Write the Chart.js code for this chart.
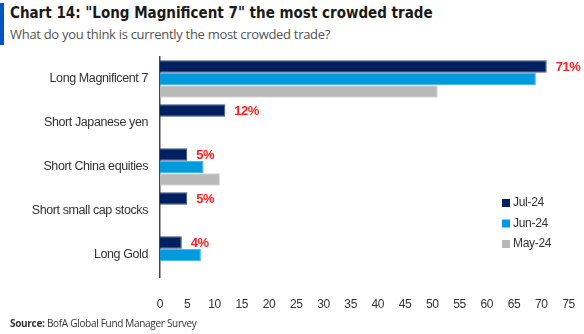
<!DOCTYPE html>
<html>
<head>
<meta charset="utf-8">
<script src="https://cdn.jsdelivr.net/npm/chart.js@4/dist/chart.umd.min.js"></script>
<style>
  html, body { margin: 0; padding: 0; background: #fff; }
  #wrap { position: relative; width: 584px; height: 334px; overflow: hidden; }
  #bar { position: absolute; left: 0; top: 3px; width: 4px; height: 42px; background: #0055c4; }
  #title { position: absolute; left: 10px; top: 4px; font: bold 15px "Liberation Sans Narrow", "DejaVu Sans Condensed", sans-serif; color: #1a1a1a; white-space: nowrap; }
  #sub { position: absolute; left: 10px; top: 25px; font: 13px "Open Sans", "Liberation Sans", sans-serif; color: #555; white-space: nowrap; letter-spacing: -0.3px; }
  #src { position: absolute; left: 10px; top: 316px; font: 10px "Open Sans", "Liberation Sans", sans-serif; color: #333; white-space: nowrap; letter-spacing: -0.3px; }
  #src b { font-weight: bold; }
  canvas { position: absolute; left: 0; top: 0; }
</style>
</head>
<body>
<div id="wrap">
  <div id="bar"></div>
  <div id="title">Chart 14: "Long Magnificent 7" the most crowded trade</div>
  <div id="sub">What do you think is currently the most crowded trade?</div>
  <canvas id="myChart" width="584" height="334"></canvas>
  <div id="src"><b>Source:</b> BofA Global Fund Manager Survey</div>
</div>
<script>
// data
const categories = ['Long Magnificent 7', 'Short Japanese yen', 'Short China equities', 'Short small cap stocks', 'Long Gold']
const jul24 = [71, 12, 5, 5, 4]
const jun24 = [69, null, 8, null, 7.5]
const may24 = [51, null, 11, null, null]
const seriesNames = ['Jul-24', 'Jun-24', 'May-24']
const xTicks = [0, 5, 10, 15, 20, 25, 30, 35, 40, 45, 50, 55, 60, 65, 70, 75]

const colors = ['#00205f', '#009ade', '#b9b9b9']
const sans = '"Liberation Sans", Arial, sans-serif'

// tighter letter spacing for the axis text
const tightText = {
  id: 'tightText',
  beforeDraw(chart) { chart.ctx.letterSpacing = '-0.4px' }
}

// red % labels at the end of the Jul-24 bars
const endLabels = {
  id: 'endLabels',
  afterDatasetsDraw(chart) {
    const ctx = chart.ctx
    const meta = chart.getDatasetMeta(0)
    ctx.save()
    ctx.font = 'bold 13px ' + sans
    ctx.letterSpacing = '-0.5px'
    ctx.fillStyle = '#ff1f1f'
    ctx.textBaseline = 'middle'
    meta.data.forEach((bar, i) => {
      if (jul24[i] == null) return
      ctx.fillText(jul24[i] + '%', bar.x + 9, bar.y + 1)
    })
    ctx.restore()
  }
}

// legend sitting inside the plot, lower right
const sideLegend = {
  id: 'sideLegend',
  afterDraw(chart) {
    const ctx = chart.ctx
    ctx.save()
    ctx.font = '12px ' + sans
    ctx.letterSpacing = '-0.3px'
    ctx.textBaseline = 'middle'
    seriesNames.forEach((name, i) => {
      const y = 203 + i * 20.5
      ctx.fillStyle = colors[i]
      ctx.fillRect(502, y - 4, 8, 8)
      ctx.fillStyle = '#333'
      ctx.fillText(name, 513, y)
    })
    ctx.restore()
  }
}

window.addEventListener('DOMContentLoaded', () => {
  const find = document.getElementById('myChart')
  new Chart(find, {
    type: 'bar',
    data: {
      labels: categories,
      datasets: [
        { label: seriesNames[0], data: jul24, backgroundColor: colors[0], borderColor: '#3b4f80', borderWidth: 1 },
        { label: seriesNames[1], data: jun24, backgroundColor: colors[1], borderColor: '#33aee6', borderWidth: 1 },
        { label: seriesNames[2], data: may24, backgroundColor: colors[2], borderColor: '#d6d6d6', borderWidth: 1 }
      ]
    },
    options: {
      indexAxis: 'y',
      responsive: false,
      animation: false,
      categoryPercentage: 0.85,
      barPercentage: 1,
      layout: { padding: { top: 57, right: 15.5, left: 0, bottom: 0 } },
      plugins: { legend: { display: false }, tooltip: { enabled: false } },
      scales: {
        x: {
          min: 0,
          max: 75,
          afterBuildTicks: (scale) => { scale.ticks = xTicks.map(v => ({ value: v })) },
          afterFit: (scale) => {
            scale.height = 57
            scale.paddingLeft = 0
            scale.paddingRight = 0
          },
          grid: { display: false },
          border: { display: false },
          ticks: { padding: 12, color: '#333', font: { family: sans, size: 12 } }
        },
        y: {
          afterFit: (scale) => { scale.width = 160 },
          grid: { display: false, drawTicks: false },
          border: { display: true, color: '#444', width: 1.5 },
          ticks: { padding: 12, color: '#333', font: { family: sans, size: 12.5 } }
        }
      }
    },
    plugins: [tightText, endLabels, sideLegend]
  })
})
</script>
</body>
</html>
